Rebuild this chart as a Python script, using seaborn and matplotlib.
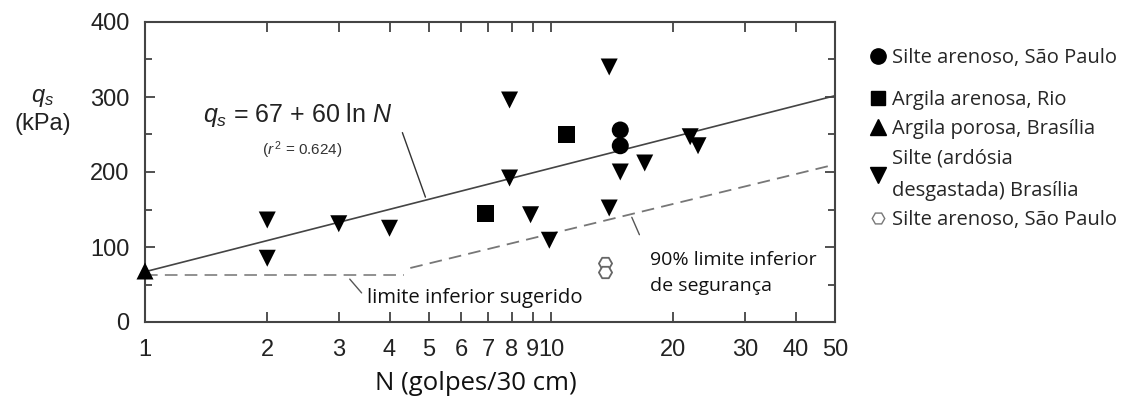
import numpy as np
import pandas as pd
import seaborn as sns
import matplotlib.pyplot as plt
from matplotlib.lines import Line2D
from matplotlib.ticker import FixedLocator, NullLocator, MultipleLocator

# data (N in golpes/30 cm, q_s in kPa)
circulo_n = [14.8, 14.8]
circulo_q = [256, 235]
quadrado_n = [6.9, 10.9]
quadrado_q = [145, 250]
tri_cima_n = [1.0]
tri_cima_q = [68]
tri_baixo_n = [2, 2, 3, 4, 7.9, 7.9, 8.9, 9.9, 13.9, 13.9, 14.8, 17, 22, 23]
tri_baixo_q = [136, 85, 131, 125, 296, 192, 143, 109, 340, 152, 200, 212, 247, 235]
hex_n = [13.6, 13.6]
hex_q = [79, 67]

# limite inferior sugerido (horizontal) and 90% lower bound (dashed)
lim_sug_n = [1, 4.35]
lim_sug_q = [63, 63]
lim_90_n = [4.5, 50]
lim_90_q = [72, 210]

x_ticks = [1, 2, 3, 4, 5, 6, 7, 8, 9, 10, 20, 30, 40, 50]
x_labels = ['1', '2', '3', '4', '5', '6', '7', '8', '9', '10', '20', '30', '40', '50']

labels = ['Silte arenoso, São Paulo', 'Argila arenosa, Rio', 'Argila porosa, Brasília',
          'Silte (ardósia\ndesgastada) Brasília', 'Silte arenoso, São Paulo ']

TXT_FONT = ['Open Sans', 'DejaVu Sans']


def build_frame():
    rows = []
    groups = [(circulo_n, circulo_q, 'circ'), (quadrado_n, quadrado_q, 'quad'),
              (tri_cima_n, tri_cima_q, 'tri_c'), (tri_baixo_n, tri_baixo_q, 'tri_b')]
    for ns, qs, g in groups:
        for n, q in zip(ns, qs):
            rows.append({'N': n, 'q': q, 'grupo': g})
    return pd.DataFrame(rows)


sns.set_style('ticks')
plt.rcParams['font.family'] = ['Liberation Sans', 'DejaVu Sans']
plt.rcParams['mathtext.fontset'] = 'custom'
plt.rcParams['mathtext.rm'] = 'Liberation Sans'
plt.rcParams['mathtext.it'] = 'Liberation Sans:italic'

fig = plt.figure(figsize=(11.23, 4.01), dpi=100)
ax = fig.add_axes([145 / 1123, 79 / 401, 690 / 1123, 300 / 401])

df = build_frame()
sns.scatterplot(data=df, x='N', y='q', style='grupo',
                markers={'circ': 'o', 'quad': 's', 'tri_c': '^', 'tri_b': 'v'},
                color='black', s=150, edgecolor='black', linewidth=0,
                legend=False, ax=ax, zorder=4, clip_on=False)
hex_df = pd.DataFrame({'N': hex_n, 'q': hex_q})
sns.scatterplot(data=hex_df, x='N', y='q', marker='H', s=90, facecolor='white',
                edgecolor='#666666', linewidth=1.3, legend=False, ax=ax, zorder=4)

# fitted line q_s = 67 + 60 ln N
n_line = np.geomspace(1, 50, 100)
sns.lineplot(x=n_line, y=67 + 60 * np.log(n_line), color='#444444', lw=1.2, ax=ax, zorder=3)
sns.lineplot(x=lim_sug_n, y=lim_sug_q, color='#888888', lw=1.3, ax=ax,
             linestyle=(0, (7, 4)), zorder=2)
sns.lineplot(x=lim_90_n, y=lim_90_q, color='#777777', lw=1.3, ax=ax,
             linestyle=(0, (7, 4)), zorder=2)

ax.set_xscale('log')
ax.set_xlim(1, 50)
ax.set_ylim(0, 400)
ax.xaxis.set_major_locator(FixedLocator(x_ticks))
ax.set_xticklabels(x_labels)
ax.xaxis.set_minor_locator(NullLocator())
ax.yaxis.set_major_locator(MultipleLocator(100))
ax.yaxis.set_minor_locator(MultipleLocator(50))
ax.tick_params(which='both', direction='in', top=True, right=True, colors='#333333',
               labelcolor='#222222', labelsize=17, width=1.2)
ax.tick_params(which='major', length=7)
ax.tick_params(which='minor', length=5)
ax.tick_params(axis='y', pad=11)
ax.tick_params(axis='x', labeltop=False, pad=12)
for sp in ax.spines.values():
    sp.set_color('#444444')
    sp.set_linewidth(1.5)
ax.set_xlabel('')
ax.set_ylabel('')

# equation and annotations
ax.text(0.084, 0.69, r'$q_s$ = 67 + 60 ln $N$', transform=ax.transAxes, fontsize=18,
        ha='left', va='center', color='#222222')
ax.text(0.228, 0.573, r'($r^{\,2}$ = 0.624)', transform=ax.transAxes, fontsize=11,
        ha='center', va='center', color='#333333')
ax.annotate('', xy=(4.93, 163), xytext=(4.28, 256),
            arrowprops=dict(arrowstyle='-', color='#333333', lw=1))
ax.annotate('', xy=(3.45, 36), xytext=(3.16, 60),
            arrowprops=dict(arrowstyle='-', color='#555555', lw=1))
ax.annotate('', xy=(16.6, 113), xytext=(15.7, 143),
            arrowprops=dict(arrowstyle='-', color='#555555', lw=1))
ax.text(0.322, 0.08, 'limite inferior sugerido', transform=ax.transAxes, fontsize=14.6,
        family=TXT_FONT, ha='left', va='center', color='#111111')
ax.text(0.732, 0.163, '90% limite inferior\nde segurança', transform=ax.transAxes,
        fontsize=14, family=TXT_FONT, ha='left', va='center',
        linespacing=1.6, color='#111111')

fig.text(43 / 1123, 1 - 111 / 401, '$q_s$\n(kPa)', ha='center', va='center',
         fontsize=17, color='#222222', linespacing=1.2)
fig.text(476 / 1123, 1 - 384 / 401, 'N (golpes/30 cm)', ha='center', va='center',
         fontsize=18.5, family=TXT_FONT, color='#111111')

handles = [
    Line2D([], [], marker='o', color='black', linestyle='', markersize=11),
    Line2D([], [], marker='s', color='black', linestyle='', markersize=10),
    Line2D([], [], marker='^', color='black', linestyle='', markersize=11),
    Line2D([], [], marker='v', color='black', linestyle='', markersize=11),
    Line2D([], [], marker='H', color='#777777', markerfacecolor='white', linestyle='',
           markersize=9),
]
leg_kw = dict(loc='upper left', frameon=False, handlelength=0.8, handletextpad=0.3,
              labelspacing=0.45, prop={'family': TXT_FONT, 'size': 14.5})
leg1 = fig.legend(handles[:1], labels[:1], bbox_to_anchor=(852 / 1123, 1 - 30 / 401), **leg_kw)
leg2 = fig.legend(handles[1:], labels[1:], bbox_to_anchor=(852 / 1123, 1 - 72 / 401), **leg_kw)
for t in leg2.get_texts():
    t.set_linespacing(1.85)

fig.savefig('out.png', dpi=100)
